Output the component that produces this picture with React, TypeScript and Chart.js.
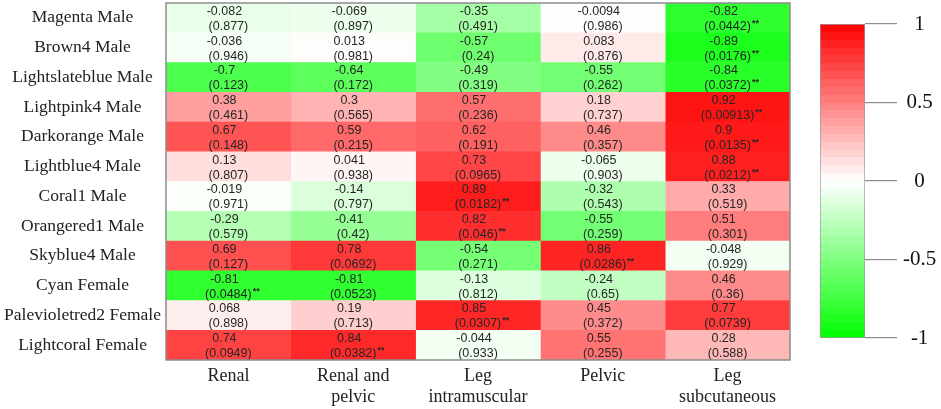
import React, { useEffect, useRef } from "react";
import { Chart, registerables } from "chart.js";

Chart.register(...registerables);

const rowLabels = [
  "Magenta Male",
  "Brown4 Male",
  "Lightslateblue Male",
  "Lightpink4 Male",
  "Darkorange Male",
  "Lightblue4 Male",
  "Coral1 Male",
  "Orangered1 Male",
  "Skyblue4 Male",
  "Cyan Female",
  "Palevioletred2 Female",
  "Lightcoral Female",
];

const columnLabels: string[][] = [
  ["Renal"],
  ["Renal and", "pelvic"],
  ["Leg", "intramuscular"],
  ["Pelvic"],
  ["Leg", "subcutaneous"],
];

const renalR = [-0.082, -0.036, -0.7, 0.38, 0.67, 0.13, -0.019, -0.29, 0.69, -0.81, 0.068, 0.74];
const renalP = [0.877, 0.946, 0.123, 0.461, 0.148, 0.807, 0.971, 0.579, 0.127, 0.0484, 0.898, 0.0949];

const renalPelvicR = [-0.069, 0.013, -0.64, 0.3, 0.59, 0.041, -0.14, -0.41, 0.78, -0.81, 0.19, 0.84];
const renalPelvicP = [0.897, 0.981, 0.172, 0.565, 0.215, 0.938, 0.797, 0.42, 0.0692, 0.0523, 0.713, 0.0382];

const legIntraR = [-0.35, -0.57, -0.49, 0.57, 0.62, 0.73, 0.89, 0.82, -0.54, -0.13, 0.85, -0.044];
const legIntraP = [0.491, 0.24, 0.319, 0.236, 0.191, 0.0965, 0.0182, 0.046, 0.271, 0.812, 0.0307, 0.933];

const pelvicR = [-0.0094, 0.083, -0.55, 0.18, 0.46, -0.065, -0.32, -0.55, 0.86, -0.24, 0.45, 0.55];
const pelvicP = [0.986, 0.876, 0.262, 0.737, 0.357, 0.903, 0.543, 0.259, 0.0286, 0.65, 0.372, 0.255];

const legSubR = [-0.82, -0.89, -0.84, 0.92, 0.9, 0.88, 0.33, 0.51, -0.048, 0.46, 0.77, 0.28];
const legSubP = [0.0442, 0.0176, 0.0372, 0.00913, 0.0135, 0.0212, 0.519, 0.301, 0.929, 0.36, 0.0739, 0.588];

const corrColumns = [renalR, renalPelvicR, legIntraR, pelvicR, legSubR];
const pColumns = [renalP, renalPelvicP, legIntraP, pelvicP, legSubP];

const colorbarTicks = [-1, -0.5, 0, 0.5, 1];

const SERIF = '"Liberation Serif", "Times New Roman", serif';
const SANS = '"Liberation Sans", Arial, sans-serif';

function corrColor(v: number): string {
  const t = Math.min(1, Math.abs(v));
  const o = Math.round(255 * (1 - t));
  return v >= 0 ? `rgb(255,${o},${o})` : `rgb(${o},255,${o})`;
}

const cellTextPlugin = {
  id: "cellText",
  afterDatasetsDraw(chart: any) {
    const ctx = chart.ctx;
    ctx.save();
    chart.data.datasets.forEach((_ds: any, j: number) => {
      const meta = chart.getDatasetMeta(j);
      meta.data.forEach((el: any, i: number) => {
        const { x, y, base } = el.getProps(["x", "y", "base"], true);
        const cx = (x + base) / 2;
        const r = corrColumns[j][i];
        const p = pColumns[j][i];
        ctx.fillStyle = "#262626";
        ctx.textAlign = "center";
        ctx.textBaseline = "middle";
        ctx.font = `12.5px ${SANS}`;
        ctx.fillText(String(r), cx - 4, y - 6.5);
        const ps = `(${p})`;
        ctx.fillText(ps, cx, y + 8.5);
        if (p < 0.05) {
          const w = ctx.measureText(ps).width;
          ctx.textAlign = "left";
          ctx.font = `bold 9px ${SANS}`;
          ctx.fillText("**", cx + w / 2 + 1, y + 5.5);
        }
      });
    });
    const a = chart.chartArea;
    ctx.strokeStyle = "#8c8c8c";
    ctx.lineWidth = 1.5;
    ctx.strokeRect(a.left, a.top, a.right - a.left, a.bottom - a.top);
    ctx.restore();
  },
};

function Heatmap() {
  const ref = useRef<HTMLCanvasElement>(null);
  useEffect(() => {
    if (!ref.current) return;
    const chart = new Chart(ref.current, {
      type: "bar",
      data: {
        labels: rowLabels,
        datasets: corrColumns.map((col, j) => ({
          label: columnLabels[j].join(" "),
          data: col.map(() => 1),
          backgroundColor: col.map(corrColor),
          borderWidth: 0,
          barPercentage: 1,
          categoryPercentage: 1,
        })),
      },
      options: {
        indexAxis: "y",
        responsive: false,
        animation: false,
        layout: { padding: { top: 3, right: 151, left: 0, bottom: 0 } },
        plugins: { legend: { display: false }, tooltip: { enabled: false } },
        scales: {
          x: {
            stacked: true,
            min: 0,
            max: 5,
            grid: { display: false },
            border: { display: false },
            afterBuildTicks: (s: any) => {
              s.ticks = columnLabels.map((_l, i) => ({ value: i + 0.5 }));
            },
            afterFit: (s: any) => {
              s.height = 49;
              s.paddingLeft = 0;
              s.paddingRight = 0;
            },
            ticks: {
              callback: (_v: any, i: number) => columnLabels[i],
              font: { family: SERIF, size: 18, lineHeight: 1.15 },
              color: "#222",
              padding: -2,
              maxRotation: 0,
              autoSkip: false,
            },
          },
          y: {
            stacked: true,
            grid: { display: false },
            border: { display: false },
            afterFit: (s: any) => {
              s.width = 166;
              s.paddingTop = 0;
              s.paddingBottom = 0;
            },
            ticks: {
              crossAlign: "center",
              padding: -3,
              font: { family: SERIF, size: 17.5 },
              color: "#222",
              autoSkip: false,
            },
          },
        },
      } as any,
      plugins: [cellTextPlugin],
    });
    return () => chart.destroy();
  }, []);
  return (
    <canvas
      ref={ref}
      width={941}
      height={409}
      style={{ position: "absolute", left: 0, top: 0, width: 941, height: 409 }}
    />
  );
}

function ColorBar() {
  const ref = useRef<HTMLCanvasElement>(null);
  useEffect(() => {
    if (!ref.current) return;
    const chart = new Chart(ref.current, {
      type: "bar",
      data: {
        labels: [""],
        datasets: [
          {
            data: [[-1, 1]] as any,
            backgroundColor: (c: any) => {
              const a = c.chart.chartArea;
              if (!a) return "#fff";
              const g = c.chart.ctx.createLinearGradient(0, a.bottom, 0, a.top);
              const N = 40;
              for (let k = 0; k < N; k++) {
                const v = -1 + (2 * (k + 0.5)) / N;
                const col = corrColor(v);
                g.addColorStop(k / N, col);
                g.addColorStop((k + 1) / N, col);
              }
              return g;
            },
            borderColor: "#9a9a9a",
            borderWidth: 1,
            borderSkipped: false,
            barPercentage: 1,
            categoryPercentage: 1,
          },
        ],
      },
      options: {
        responsive: false,
        animation: false,
        layout: { padding: { left: 20, top: 24, bottom: 71, right: 0 } },
        plugins: { legend: { display: false }, tooltip: { enabled: false } },
        scales: {
          x: { display: false },
          y: {
            position: "right",
            min: -1,
            max: 1,
            afterBuildTicks: (s: any) => {
              s.ticks = colorbarTicks.map((v) => ({ value: v }));
            },
            afterFit: (s: any) => {
              s.width = 76;
            },
            grid: {
              drawOnChartArea: false,
              drawTicks: true,
              tickLength: 32,
              color: "#8c8c8c",
              lineWidth: 1.2,
            },
            border: { display: false },
            ticks: {
              callback: (v: any) => String(v),
              crossAlign: "center",
              padding: 6,
              font: { family: SERIF, size: 21 },
              color: "#111",
            },
          },
        },
      } as any,
    });
    return () => chart.destroy();
  }, []);
  return (
    <canvas
      ref={ref}
      width={141}
      height={409}
      style={{ position: "absolute", left: 800, top: 0, width: 141, height: 409 }}
    />
  );
}

export default function App() {
  return (
    <div
      style={{
        position: "absolute",
        left: 0,
        top: 0,
        width: 941,
        height: 409,
        background: "#fff",
        overflow: "hidden",
      }}
    >
      <Heatmap />
      <ColorBar />
    </div>
  );
}
